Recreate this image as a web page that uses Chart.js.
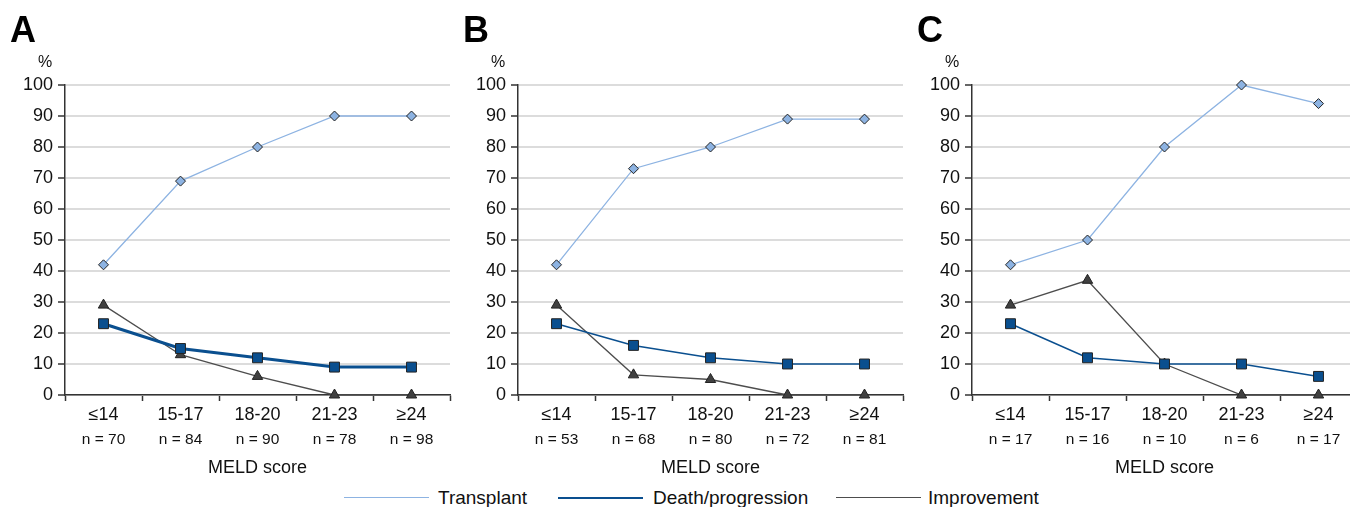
<!DOCTYPE html>
<html>
<head>
<meta charset="utf-8">
<script src="https://cdn.jsdelivr.net/npm/chart.js@4/dist/chart.umd.min.js"></script>
<style>
  body { margin: 0; width: 1350px; height: 507px; overflow: hidden; background: #fff; position: relative;
         font-family: "Liberation Sans", Arial, sans-serif; }
  canvas { position: absolute; top: 0; }
  .leg-line { position: absolute; height: 0; width: 85px; top: 497px; }
  .leg-text { position: absolute; top: 487px; font-size: 19px; color: #111; line-height: 22px; }
</style>
</head>
<body>
<canvas id="panelA" width="458" height="480" style="left:0px"></canvas>
<canvas id="panelB" width="458" height="480" style="left:453px"></canvas>
<canvas id="panelC" width="458" height="480" style="left:907px"></canvas>

<div class="leg-line" style="left:344px; border-top:1.5px solid #8db3e2"></div>
<div class="leg-text" style="left:438px">Transplant</div>
<div class="leg-line" style="left:558px; border-top:2px solid #0a4f8f"></div>
<div class="leg-text" style="left:653px">Death/progression</div>
<div class="leg-line" style="left:836px; border-top:1.5px solid #4d4d4d"></div>
<div class="leg-text" style="left:928px">Improvement</div>

<script>
// categories and tick labels
const categories = ["≤14", "15-17", "18-20", "21-23", "≥24"];
const yTicks = [0, 10, 20, 30, 40, 50, 60, 70, 80, 90, 100];

// panel A
const nA = ["n = 70", "n = 84", "n = 90", "n = 78", "n = 98"];
const transplantA = [42, 69, 80, 90, 90];
const deathA = [23, 15, 12, 9, 9];
const improvementA = [29, 13, 6, 0, 0];

// panel B
const nB = ["n = 53", "n = 68", "n = 80", "n = 72", "n = 81"];
const transplantB = [42, 73, 80, 89, 89];
const deathB = [23, 16, 12, 10, 10];
const improvementB = [29, 6.5, 5, 0, 0];

// panel C
const nC = ["n = 17", "n = 16", "n = 10", "n = 6", "n = 17"];
const transplantC = [42, 50, 80, 100, 94];
const deathC = [23, 12, 10, 10, 6];
const improvementC = [29, 37, 10, 0, 0];

Chart.defaults.font.family = "'Liberation Sans', Arial, sans-serif";
Chart.defaults.color = "#111";

const axisColor = "#333";

const panelText = {
    id: "panelText",
    afterDraw(chart, args, opts) {
        const ctx = chart.ctx;
        const left = chart.chartArea.left;
        ctx.save();
        ctx.fillStyle = "#000";
        ctx.textBaseline = "alphabetic";
        ctx.textAlign = "left";
        ctx.font = "bold 36px 'Liberation Sans', Arial, sans-serif";
        ctx.fillText(opts.letter, left - 55, 42);
        ctx.font = "16px 'Liberation Sans', Arial, sans-serif";
        ctx.textAlign = "center";
        ctx.textBaseline = "middle";
        ctx.fillStyle = "#111";
        ctx.fillText("%", left - 20, 63);
        ctx.restore();
    }
};

function makePanel(id, letter, nLabels, transplant, death, improvement, deathWidth) {
    const ctx = document.getElementById(id).getContext("2d");
    return new Chart(ctx, {
        type: "line",
        data: {
            labels: categories,
            datasets: [
                {
                    label: "Transplant",
                    data: transplant,
                    borderColor: "#8db3e2",
                    borderWidth: 1.3,
                    pointStyle: "rectRot",
                    pointRadius: 5,
                    pointBackgroundColor: "#8db3e2",
                    pointBorderColor: "#222",
                    pointBorderWidth: 1,
                    clip: false,
                },
                {
                    label: "Death/progression",
                    data: death,
                    borderColor: "#0a4f8f",
                    borderWidth: deathWidth,
                    pointStyle: "rect",
                    pointRadius: 7,
                    pointBackgroundColor: "#0a4f8f",
                    pointBorderColor: "#222",
                    pointBorderWidth: 1,
                    clip: false,
                },
                {
                    label: "Improvement",
                    data: improvement,
                    borderColor: "#4d4d4d",
                    borderWidth: 1.3,
                    pointStyle: "triangle",
                    pointRadius: 6,
                    pointBackgroundColor: "#404040",
                    pointBorderColor: "#222",
                    pointBorderWidth: 1,
                    clip: false,
                },
            ],
        },
        options: {
            responsive: false,
            animation: false,
            layout: { padding: { top: 85, right: 2, left: 0, bottom: 0 } },
            plugins: {
                legend: { display: false },
                tooltip: { enabled: false },
                panelText: { letter: letter },
            },
            scales: {
                x: {
                    offset: true,
                    weight: 0,
                    grid: { offset: true, drawOnChartArea: false, tickLength: 6, tickColor: axisColor, tickWidth: 1.5 },
                    border: { color: axisColor, width: 1.5 },
                    ticks: { font: { size: 18 }, padding: 3, maxRotation: 0, autoSkip: false },
                    afterFit(scale) { scale.height = 30; },
                },
                x2: {
                    type: "category",
                    position: "bottom",
                    labels: nLabels,
                    offset: true,
                    weight: 1,
                    grid: { display: false, drawTicks: false },
                    border: { display: false },
                    ticks: { font: { size: 15.5 }, padding: 5, maxRotation: 0, autoSkip: false },
                    title: { display: true, text: "MELD score", font: { size: 18 }, padding: { top: 0, bottom: 1 } },
                    afterFit(scale) { scale.height = 55; },
                },
                y: {
                    min: 0,
                    max: 100,
                    afterBuildTicks(scale) { scale.ticks = yTicks.map(v => ({ value: v })); },
                    grid: { color: "#dcdcdc", lineWidth: 2, tickLength: 7, tickColor: axisColor, tickWidth: 1.5 },
                    border: { color: axisColor, width: 1.5 },
                    ticks: { font: { size: 18 }, padding: 5 },
                    afterFit(scale) { scale.width = 65; },
                },
            },
        },
        plugins: [panelText],
    });
}

makePanel("panelA", "A", nA, transplantA, deathA, improvementA, 3);
makePanel("panelB", "B", nB, transplantB, deathB, improvementB, 1.5);
makePanel("panelC", "C", nC, transplantC, deathC, improvementC, 1.5);
</script>
</body>
</html>
